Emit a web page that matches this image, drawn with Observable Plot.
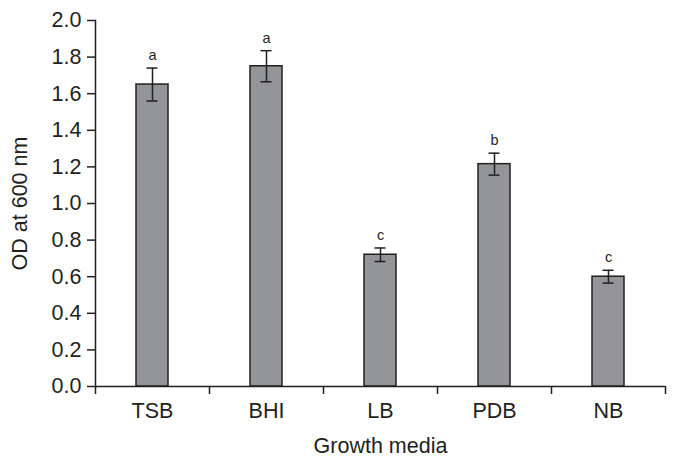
<!DOCTYPE html>
<html>
<head>
<meta charset="utf-8">
<script src="https://cdn.jsdelivr.net/npm/d3@7"></script>
<script src="https://cdn.jsdelivr.net/npm/@observablehq/plot@0.6"></script>
<style>
  html, body { margin: 0; padding: 0; background: #fff; }
  #chart { width: 678px; height: 465px; }
</style>
</head>
<body>
<div id="chart"></div>
<script>
const media = ["TSB", "BHI", "LB", "PDB", "NB"];
const od = [1.65, 1.75, 0.72, 1.215, 0.60];
const err = [0.09, 0.085, 0.037, 0.06, 0.035];
const letters = ["a", "a", "c", "b", "c"];
const yTicks = [0, 0.2, 0.4, 0.6, 0.8, 1.0, 1.2, 1.4, 1.6, 1.8, 2.0];

const data = media.map((m, i) => ({medium: m, od: od[i], err: err[i], letter: letters[i]}));

const ink = "#231f20";
const W = 678, H = 465, ML = 95, MR = 13, MT = 20, MB = 79;
const step = (W - ML - MR) / media.length;

const chart = Plot.plot({
  width: W,
  height: H,
  marginLeft: ML,
  marginRight: MR,
  marginTop: MT,
  marginBottom: MB,
  style: {fontFamily: "Liberation Sans, Arial, sans-serif", color: ink, background: "#fff"},
  x: {domain: media, paddingInner: 0.72, paddingOuter: 0.36},
  y: {domain: [0, 2], ticks: yTicks},
  marks: [
    Plot.barY(data, {x: "medium", y: "od", fill: "#939598", stroke: ink, strokeWidth: 1.5}),
    Plot.ruleX(data, {x: "medium", y1: d => d.od - d.err, y2: d => d.od + d.err, stroke: ink, strokeWidth: 1.5}),
    Plot.tickY(data, {x: "medium", y: d => d.od + d.err, stroke: ink, strokeWidth: 1.5, insetLeft: 10.5, insetRight: 10.5}),
    Plot.tickY(data, {x: "medium", y: d => d.od - d.err, stroke: ink, strokeWidth: 1.5, insetLeft: 10.5, insetRight: 10.5}),
    Plot.text(data, {x: "medium", y: d => d.od + d.err, text: "letter", dy: -8, fontSize: 14.5, fill: ink, lineAnchor: "bottom"}),
    Plot.axisY({ticks: yTicks, tickFormat: d3.format(".1f"), tickSize: 8, tickPadding: 6, fontSize: 21.5, stroke: ink, strokeWidth: 1.5, label: "OD at 600 nm", labelAnchor: "center", labelArrow: "none", labelOffset: 84}),
    Plot.axisX({tickSize: 0, tickPadding: 16, fontSize: 21.5, label: "Growth media", labelAnchor: "center", labelArrow: "none", labelOffset: 66}),
    Plot.axisX({tickSize: 8, text: null, dx: -step / 2, stroke: ink, strokeWidth: 1.5, label: null}),
    Plot.axisX({ticks: [media[media.length - 1]], tickSize: 8, text: null, dx: step / 2, stroke: ink, strokeWidth: 1.5, label: null}),
    Plot.ruleY([0], {stroke: ink, strokeWidth: 1.5}),
    Plot.frame({anchor: "left", stroke: ink, strokeWidth: 1.5})
  ]
});
document.getElementById("chart").appendChild(chart);
</script>
</body>
</html>
